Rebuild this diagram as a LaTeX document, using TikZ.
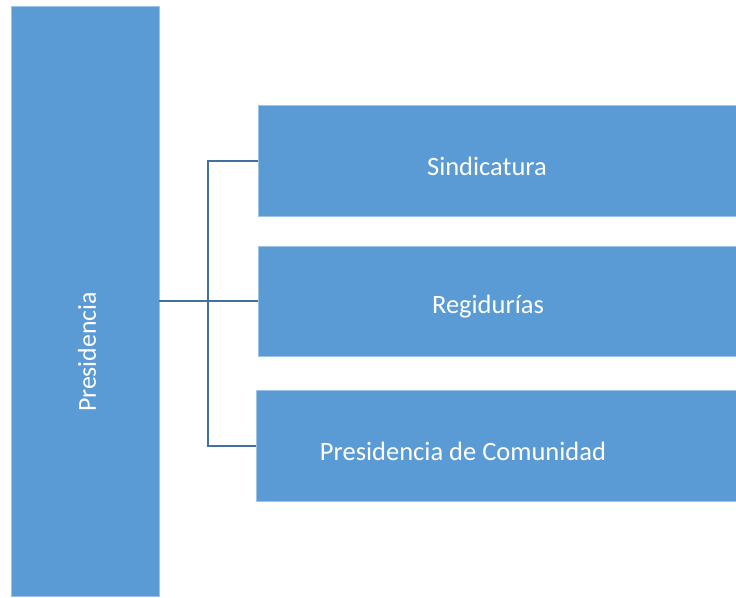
\documentclass[tikz,border=0pt]{standalone}
\usepackage{fontspec}
\setmainfont{Carlito}
\usetikzlibrary{calc}
\definecolor{boxfill}{HTML}{5B9BD5}
\definecolor{boxedge}{HTML}{9DC3E6}
\definecolor{linkline}{HTML}{41719C}
\tikzset{
  orgbox/.style={rectangle, fill=boxfill, draw=boxedge, line width=0.8pt, inner sep=0pt},
  orglabel/.style={text=white, inner sep=0pt, font=\fontsize{26.5}{31}\selectfont},
  orglink/.style={draw=linkline, line width=2pt}
}
\newcommand{\orgunit}[5]{\node[orgbox, minimum width=#4, minimum height=#5] (#1) at ( #2 , #3 ) {};}
\newcommand{\orgtext}[4]{\node[orglabel] (#1) at ( #2 , #3 ) {#4};}

\begin{document}
\begin{tikzpicture}[x=1pt,y=-1pt]
        \useasboundingbox (0,0) rectangle (736,597);
        % boxes
        \orgunit{pres}{85}{301}{148pt}{590pt}
        \orgunit{sind}{499.25}{160.5}{481.5pt}{111pt}
        \orgunit{reg}{499.25}{301}{481.5pt}{110pt}
        \orgunit{com}{498.25}{445.5}{483.5pt}{111pt}

        % texts
        \node[orglabel, rotate=90, font=\fontsize{25.8}{30}\selectfont] (prestext) at (87,352) {Presidencia};
        \orgtext{sindtext}{487}{166}{Sindicatura}
        \orgtext{regtext}{488}{307}{Regidurías}
        \orgtext{comtext}{463}{451}{Presidencia de Comunidad}

        % links
        \draw[orglink] (pres.east) -- (reg.west);
        \draw[orglink] (sind.west) -- ++(-50,0) |- (com.west);

    \end{tikzpicture}
\end{document}
